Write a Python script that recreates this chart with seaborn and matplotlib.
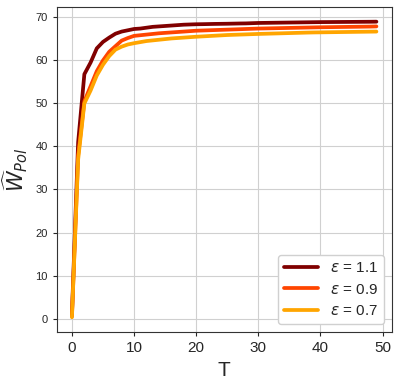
import numpy as np
import pandas as pd
import seaborn as sns
import matplotlib
matplotlib.use("Agg")
import matplotlib.pyplot as plt

T = list(range(50))
eps_labels = ["1.1", "0.9", "0.7"]
w_11 = [1.0, 41.0, 56.8, 59.5, 62.8, 64.3, 65.3, 66.2, 66.7, 67.0,
        67.3, 67.4, 67.6, 67.8, 67.9, 68.0, 68.1, 68.2, 68.3, 68.35,
        68.4, 68.42, 68.45, 68.48, 68.5, 68.52, 68.55, 68.58, 68.6, 68.65,
        68.7, 68.72, 68.74, 68.76, 68.78, 68.8, 68.82, 68.84, 68.86, 68.88,
        68.9, 68.91, 68.92, 68.93, 68.94, 68.95, 68.96, 68.97, 68.98, 69.0]
w_09 = [0.5, 38.0, 50.5, 54.0, 57.5, 60.0, 62.0, 63.3, 64.6, 65.2,
        65.7, 65.85, 66.0, 66.15, 66.3, 66.4, 66.5, 66.6, 66.7, 66.8,
        66.9, 66.95, 67.0, 67.05, 67.1, 67.15, 67.2, 67.25, 67.3, 67.35,
        67.4, 67.43, 67.46, 67.49, 67.52, 67.55, 67.58, 67.61, 67.64, 67.67,
        67.7, 67.72, 67.74, 67.76, 67.78, 67.8, 67.82, 67.84, 67.86, 67.9]
w_07 = [0.3, 37.0, 50.0, 53.0, 56.5, 59.0, 61.0, 62.5, 63.2, 63.7,
        64.0, 64.25, 64.5, 64.65, 64.8, 64.95, 65.1, 65.2, 65.3, 65.4,
        65.5, 65.58, 65.66, 65.74, 65.82, 65.9, 65.95, 66.0, 66.05, 66.1,
        66.15, 66.19, 66.23, 66.27, 66.31, 66.35, 66.39, 66.43, 66.47, 66.5,
        66.52, 66.54, 66.56, 66.58, 66.6, 66.62, 66.64, 66.66, 66.68, 66.7]

rows = []
for lab, vals in zip(eps_labels, [w_11, w_09, w_07]):
    for t, v in zip(T, vals):
        rows.append({"T": t, "W": v, "eps": r"$\varepsilon$ = " + lab})
df = pd.DataFrame(rows)

sns.set_style("ticks")
plt.rcParams["font.family"] = ["Liberation Sans", "DejaVu Sans"]
plt.rcParams["mathtext.fontset"] = "dejavusans"

fig = plt.figure(figsize=(3.98, 3.83), dpi=100)
ax = fig.add_axes([0.1425, 0.133, 0.8415, 0.849])
palette = ["#800000", "#FF4500", "#FFA500"]
sns.lineplot(data=df, x="T", y="W", hue="eps", palette=palette, linewidth=2.7, ax=ax)
ax.grid(True, color="#d0d0d0", linewidth=0.8)
ax.set_axisbelow(True)
ax.set_xlabel("T", fontsize=15)
ax.set_ylabel(r"$\widehat{W}_{Pol}$", fontsize=15)
ax.tick_params(axis="x", labelsize=11, length=3)
ax.tick_params(axis="y", labelsize=8, length=3)
ax.set_xticks([0, 10, 20, 30, 40, 50])
ax.set_yticks([0, 10, 20, 30, 40, 50, 60, 70])
for s in ax.spines.values():
    s.set_color("#333333")
leg = ax.legend(loc="lower right", fontsize=11, title=None, framealpha=1,
                edgecolor="#d0d0d0", handlelength=2.2)
for line in leg.get_lines():
    line.set_linewidth(2.7)
fig.savefig("out.png", dpi=100)
